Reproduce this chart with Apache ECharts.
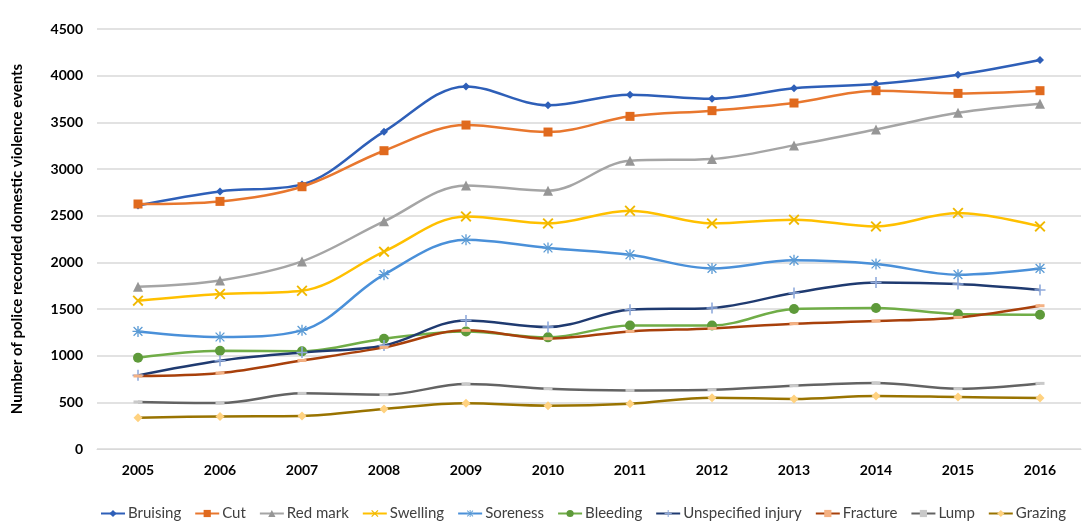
<!DOCTYPE html>
<html><head><meta charset="utf-8">
<script src="https://cdn.jsdelivr.net/npm/echarts@6/dist/echarts.min.js"></script>
<style>html,body{margin:0;padding:0;background:#fff}#c{width:1084px;height:530px}</style>
</head><body><div id="c"></div>
<script>
const years = ['2005','2006','2007','2008','2009','2010','2011','2012','2013','2014','2015','2016'];
const bruising = [2610,2760,2835,3400,3885,3682,3796,3753,3864,3910,4010,4168];
const cut = [2625,2653,2810,3196,3471,3396,3564,3625,3707,3839,3810,3839];
const redMark = [1739,1806,2010,2439,2824,2768,3089,3107,3253,3424,3603,3700];
const swelling = [1589,1661,1696,2114,2492,2417,2553,2417,2457,2385,2528,2385];
const soreness = [1260,1200,1271,1868,2242,2154,2082,1935,2021,1982,1868,1935];
const bleeding = [978,1053,1046,1182,1260,1196,1324,1324,1500,1511,1446,1439];
const unspecified = [789,946,1035,1110,1378,1307,1492,1511,1671,1785,1768,1704];
const fracture = [782,814,949,1089,1271,1182,1260,1292,1343,1371,1410,1535];
const lump = [504,493,596,582,696,646,628,635,678,707,646,703];
const grazing = [335,349,354,429,489,464,485,550,536,568,557,546];
const yTicks = {min:0, max:4500, interval:500};

const X = 'path://M0,1.2 L1.2,0 L5,3.8 L8.8,0 L10,1.2 L6.2,5 L10,8.8 L8.8,10 L5,6.2 L1.2,10 L0,8.8 L3.8,5 Z';
const PLUS = 'path://M4.3,0 H5.7 V4.3 H10 V5.7 H5.7 V10 H4.3 V5.7 H0 V4.3 H4.3 Z';
const AST = 'path://M4.4,0 H5.6 V3.6 L8.6,0.6 L9.4,1.4 L6.4,4.4 H10 V5.6 H6.4 L9.4,8.6 L8.6,9.4 L5.6,6.4 V10 H4.4 V6.4 L1.4,9.4 L0.6,8.6 L3.6,5.6 H0 V4.4 H3.6 L0.6,1.4 L1.4,0.6 L4.4,3.6 Z';
const DASH = 'path://M0,0 H10 V3 H0 Z';

function s(name, data, color, symbol, size, markerColor) {
  return {
    name, type:'line', data, smooth:0.35, symbol, symbolSize:size,
    lineStyle:{color, width:2.5},
    itemStyle:{color: markerColor || color},
    emphasis:{disabled:true}
  };
}

const chart = echarts.init(document.getElementById('c'));
chart.setOption({
  animation:false,
  textStyle:{fontFamily:'Lato, "Open Sans", sans-serif'},
  grid:{left:97, right:3, top:29, bottom:81},
  legend:{
    bottom:9, left:100, width:984, padding:0, itemGap:13, itemWidth:24, itemHeight:9,
    textStyle:{fontSize:15, color:'#404040', fontFamily:'Lato, sans-serif', padding:[0,0,0,-2]},
    data:['Bruising','Cut','Red mark','Swelling','Soreness','Bleeding','Unspecified injury','Fracture','Lump','Grazing']
  },
  xAxis:{
    type:'category', data:years, boundaryGap:true,
    axisLine:{lineStyle:{color:'#d9d9d9'}}, axisTick:{show:false},
    axisLabel:{fontSize:14, fontWeight:'bold', color:'#000', margin:14}
  },
  yAxis:{
    type:'value', min:yTicks.min, max:yTicks.max, interval:yTicks.interval,
    name:'Number of police recorded domestic violence events',
    nameLocation:'middle', nameGap:72, nameRotate:90,
    nameTextStyle:{fontSize:15, fontWeight:'bold', color:'#000'},
    axisLine:{show:false}, axisTick:{show:false},
    axisLabel:{fontSize:14, fontWeight:'bold', color:'#000', margin:14, formatter: v => String(v)},
    splitLine:{lineStyle:{color:'#d9d9d9', width:1.5}}
  },
  series:[
    s('Bruising', bruising, '#2E5FB8', 'diamond', 8),
    s('Cut', cut, '#E8772E', 'rect', 9, '#E06A1E'),
    s('Red mark', redMark, '#A5A5A5', 'triangle', 10, '#969696'),
    s('Swelling', swelling, '#FFC000', X, 11, '#F0B800'),
    s('Soreness', soreness, '#4A90D9', AST, 11, '#5B9BD5'),
    s('Bleeding', bleeding, '#70AD47', 'circle', 10, '#5E9A3A'),
    s('Unspecified injury', unspecified, '#1F3A70', PLUS, 11, '#8EA9DB'),
    s('Fracture', fracture, '#A8400B', DASH, [9,3], '#F4B183'),
    s('Lump', lump, '#636363', DASH, [9,3], '#C9C9C9'),
    s('Grazing', grazing, '#997300', 'diamond', 9, '#FFD280')
  ]
});
</script></body></html>
